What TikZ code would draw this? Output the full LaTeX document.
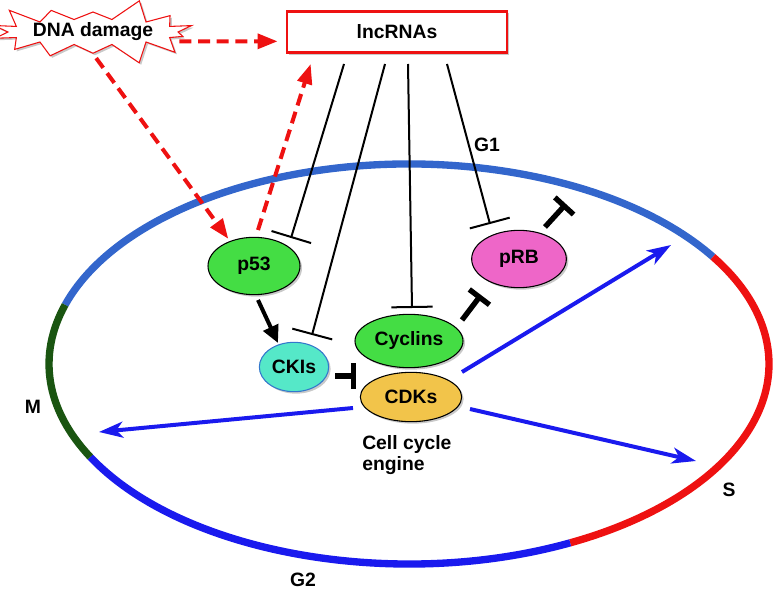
\documentclass[tikz,border=0pt]{standalone}
\usepackage{fontspec}
\setmainfont{Liberation Sans}
\usetikzlibrary{arrows.meta,shapes.geometric,shapes.symbols,shadows,calc}

\definecolor{dmgred}{HTML}{EE1111}
\definecolor{gonegreen}{HTML}{44DD44}
\definecolor{ckicyan}{HTML}{55E8C8}
\definecolor{ckiblue}{HTML}{3377CC}
\definecolor{cdkorange}{HTML}{F2C44A}
\definecolor{rbpink}{HTML}{EE66C8}
\definecolor{topblue}{HTML}{3366CC}
\definecolor{deepblue}{HTML}{1A1AEE}
\definecolor{mgreen}{HTML}{1A5511}

\begin{document}
\begin{tikzpicture}[x=0.75pt,y=-0.75pt,
	font=\fontsize{14.5}{16}\selectfont\bfseries,
	shade/.style={drop shadow={shadow xshift=1.5pt,shadow yshift=-1.5pt,opacity=0.3,fill=black!70}},
	prot/.style={ellipse,draw=black,line width=0.8pt,inner sep=0pt,shade},
	hit/.style={dmgred,line width=3pt,dash pattern=on 9pt off 5pt,-{Triangle[length=15pt,width=11pt]}},
	inh/.style={line width=1.5pt,-{Bar[width=31pt]}},
	blk/.style={line width=4pt,-{Bar[width=19pt]}},
	drive/.style={deepblue,line width=3pt,-{Stealth[length=18pt,width=12pt,inset=5pt]}},
	phase/.style={line width=5.5pt},
	lbl/.style={inner sep=0pt}]
	\useasboundingbox (0,0) rectangle (777,591);
	% cell cycle ring
	\draw[phase,topblue] (409,364) ++(197.2:360 and 200) arc[start angle=197.2,end angle=327.6,x radius=360,y radius=200];
	\draw[phase,dmgred] (409,364) ++(327.6:360 and 200) arc[start angle=327.6,end angle=423.4,x radius=360,y radius=200];
	\draw[phase,deepblue] (409,364) ++(63.4:360 and 200) arc[start angle=63.4,end angle=152.3,x radius=360,y radius=200];
	\draw[phase,mgreen] (409,364) ++(152.3:360 and 200) arc[start angle=152.3,end angle=197.2,x radius=360,y radius=200];
	\node[lbl] (g1) at (487,145) {G1};
	\node[lbl] (m) at (33,407) {M};
	\node[lbl] (s) at (729,490) {S};
	\node[lbl] (g2) at (303,580) {G2};
	% nodes
	\node[starburst,draw=dmgred,fill=white,line width=0.8pt,starburst points=14,starburst point height=17pt,random starburst=3,minimum width=135pt,minimum height=49pt,inner sep=0pt,shade] (dna) at (93,32) {DNA damage};
	\node[draw=dmgred,line width=2pt,fill=white,minimum width=165pt,minimum height=31pt,shade] (lnc) at (397,32) {lncRNAs};
	\node[prot,fill=gonegreen,minimum width=69pt,minimum height=43pt] (p53) at (254,266) {p53};
	\node[prot,fill=ckicyan,draw=ckiblue,minimum width=52pt,minimum height=37pt] (cki) at (294,367) {CKIs};
	\node[prot,fill=gonegreen,minimum width=81pt,minimum height=40pt] (cyc) at (409,341) {Cyclins};
	\node[prot,fill=cdkorange,minimum width=76pt,minimum height=37pt] (cdk) at (411,397) {CDKs};
	\node[prot,fill=rbpink,minimum width=71pt,minimum height=43pt] (prb) at (519,259) {pRB};
	\node[lbl,align=left,anchor=north west] (eng) at (362,435) {Cell cycle\\engine};
	% damage signals
	\draw[hit] ([yshift=-7pt]dna.east) -- ([xshift=-6pt,yshift=-7pt]lnc.west);
	\draw[hit,shorten <=4pt,shorten >=2pt] (dna.south) -- (p53.134);
	\draw[hit] ($(p53)+(4,-36)$) -- ($(lnc.south west)+(25,10)$);
	% lncRNA inhibitions
	\draw[inh] ($(lnc.south)+(-53,10)$) -- ($(p53)+(37,-28)$);
	\draw[inh] ($(lnc.south)+(-12,10)$) -- ($(cki)+(18,-32)$);
	\draw[inh] ($(lnc.south)+(11,10)$) -- ($(cyc)+(3,-33)$);
	\draw[inh] ($(lnc.south)+(50,10)$) -- ($(prb)+(-29,-35)$);
	% core engine
	\coordinate (rbstop) at ($(prb)+(47,-55)$);
	\draw[line width=3pt,-{Triangle[length=13pt,width=12pt]}] ($(p53)+(4,34)$) -- ($(cki)+(-16,-24)$);
	\draw[blk] ($(cki)+(41,9)$) -- ($(cdk)+(-55,-21)$);
	\draw[blk] ($(cyc)+(53,-21)$) -- ($(prb)+(-38,36)$);
	\draw[blk] ($(prb)+(26,-32)$) -- (rbstop);
	% phase transitions
	\coordinate (g1end) at (671,245);
	\coordinate (mend) at (99,432);
	\coordinate (send) at (696,461);
	\draw[drive] ($(cdk)+(51,-25)$) -- (g1end);
	\draw[drive] ($(cdk)+(-58,11)$) -- (mend);
	\draw[drive] ($(cdk)+(59,12)$) -- (send);
\end{tikzpicture}
\end{document}
